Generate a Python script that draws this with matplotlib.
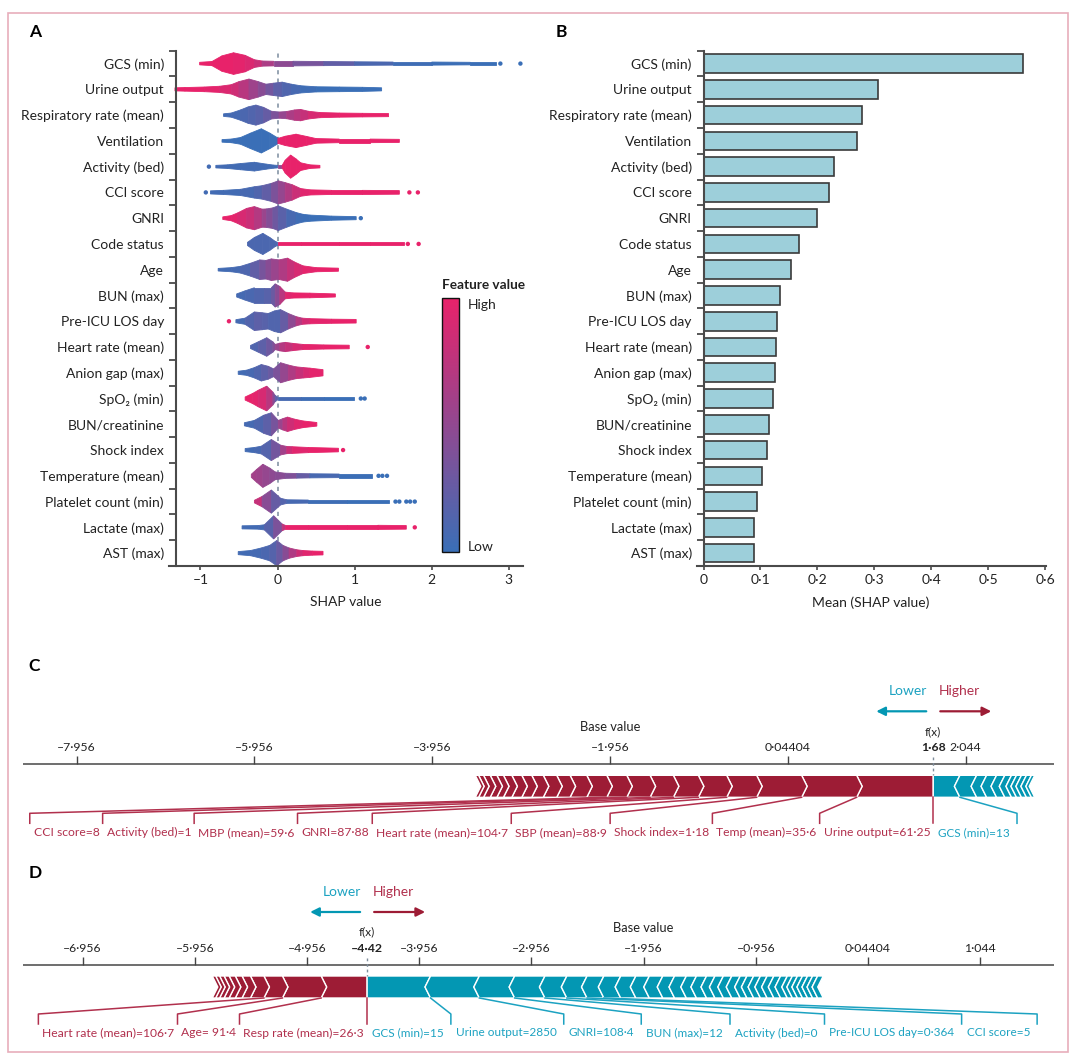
import numpy as np
import matplotlib
matplotlib.use("Agg")
import matplotlib.pyplot as plt
from matplotlib.colors import LinearSegmentedColormap
from matplotlib.patches import Polygon, Rectangle
from matplotlib.transforms import offset_copy
from matplotlib.cm import ScalarMappable

plt.rcParams["font.family"] = ["Lato", "DejaVu Sans"]

# ---------------- data ----------------
features = ["GCS (min)", "Urine output", "Respiratory rate (mean)", "Ventilation",
            "Activity (bed)", "CCI score", "GNRI", "Code status", "Age", "BUN (max)",
            "Pre-ICU LOS day", "Heart rate (mean)", "Anion gap (max)", "SpO\u2082 (min)",
            "BUN/creatinine", "Shock index", "Temperature (mean)", "Platelet count (min)",
            "Lactate (max)", "AST (max)"]

mean_abs_shap = [0.562, 0.307, 0.279, 0.270, 0.230, 0.220, 0.199, 0.167, 0.153, 0.134,
                 0.129, 0.128, 0.126, 0.122, 0.115, 0.112, 0.102, 0.094, 0.089, 0.088]

# beeswarm outline per feature: SHAP value, half height (rows), feature value (0 low - 1 high)
swarm_x = [
    [-1.01, -0.85, -0.72, -0.57, -0.42, -0.3, -0.2, -0.05, 0.2, 0.6, 1.0, 1.5, 2.0, 2.5, 2.83],
    [-1.33, -1.2, -0.95, -0.75, -0.6, -0.5, -0.37, -0.25, -0.15, -0.05, 0.06, 0.18, 0.3, 0.5, 0.8, 1.1, 1.35],
    [-0.7, -0.6, -0.48, -0.38, -0.28, -0.18, -0.08, 0.02, 0.12, 0.22, 0.3, 0.4, 0.55, 0.8, 1.1, 1.44],
    [-0.72, -0.6, -0.48, -0.35, -0.21, -0.1, 0.0, 0.01, 0.1, 0.24, 0.38, 0.5, 0.8, 1.2, 1.58],
    [-0.8, -0.65, -0.48, -0.3, -0.15, -0.05, 0.0, 0.06, 0.1, 0.17, 0.24, 0.3, 0.42, 0.55],
    [-0.87, -0.7, -0.48, -0.3, -0.2, -0.08, 0.01, 0.1, 0.19, 0.3, 0.42, 0.7, 1.1, 1.58],
    [-0.71, -0.6, -0.52, -0.4, -0.3, -0.2, -0.14, -0.06, 0.01, 0.12, 0.24, 0.33, 0.42, 0.7, 1.02],
    [-0.39, -0.3, -0.19, -0.1, -0.03, 0.0, 0.01, 0.3, 0.8, 1.2, 1.64],
    [-0.77, -0.6, -0.48, -0.35, -0.23, -0.15, -0.08, 0.02, 0.13, 0.22, 0.33, 0.5, 0.79],
    [-0.53, -0.42, -0.3, -0.18, -0.08, -0.03, 0.03, 0.1, 0.2, 0.42, 0.75],
    [-0.54, -0.42, -0.3, -0.2, -0.12, -0.04, 0.04, 0.14, 0.24, 0.32, 0.42, 0.7, 1.02],
    [-0.35, -0.25, -0.14, -0.06, -0.03, 0.03, 0.1, 0.2, 0.33, 0.6, 0.93],
    [-0.51, -0.4, -0.3, -0.21, -0.12, -0.05, 0.04, 0.14, 0.24, 0.34, 0.42, 0.59],
    [-0.42, -0.32, -0.25, -0.14, -0.06, -0.03, 0.0, 0.3, 0.6, 0.99],
    [-0.43, -0.3, -0.18, -0.08, 0.01, 0.07, 0.13, 0.22, 0.33, 0.51],
    [-0.42, -0.3, -0.21, -0.08, 0.04, 0.12, 0.19, 0.4, 0.79],
    [-0.34, -0.27, -0.19, -0.1, -0.03, 0.1, 0.25, 0.42, 0.8, 1.22],
    [-0.3, -0.2, -0.08, 0.04, 0.12, 0.4, 0.9, 1.44],
    [-0.46, -0.25, -0.17, -0.05, 0.06, 0.1, 0.4, 0.9, 1.3, 1.67],
    [-0.51, -0.35, -0.21, -0.1, -0.01, 0.07, 0.15, 0.25, 0.33, 0.45, 0.59],
]
swarm_w = [
    [0.05, 0.08, 0.3, 0.42, 0.32, 0.15, 0.1, 0.09, 0.09, 0.08, 0.07, 0.06, 0.06, 0.05, 0.05],
    [0.06, 0.07, 0.09, 0.12, 0.18, 0.3, 0.4, 0.3, 0.2, 0.24, 0.28, 0.2, 0.14, 0.1, 0.09, 0.08, 0.06],
    [0.05, 0.08, 0.2, 0.32, 0.39, 0.3, 0.15, 0.12, 0.14, 0.2, 0.22, 0.15, 0.1, 0.08, 0.07, 0.06],
    [0.05, 0.07, 0.13, 0.3, 0.47, 0.3, 0.12, 0.1, 0.18, 0.26, 0.17, 0.09, 0.07, 0.07, 0.06],
    [0.05, 0.07, 0.12, 0.17, 0.1, 0.06, 0.05, 0.05, 0.25, 0.45, 0.3, 0.15, 0.07, 0.05],
    [0.06, 0.08, 0.12, 0.22, 0.26, 0.35, 0.45, 0.38, 0.3, 0.15, 0.1, 0.08, 0.08, 0.07],
    [0.05, 0.1, 0.2, 0.38, 0.45, 0.35, 0.36, 0.4, 0.48, 0.35, 0.22, 0.15, 0.12, 0.08, 0.06],
    [0.06, 0.25, 0.41, 0.25, 0.1, 0.06, 0.06, 0.06, 0.06, 0.06, 0.06],
    [0.05, 0.08, 0.13, 0.25, 0.38, 0.36, 0.42, 0.38, 0.45, 0.3, 0.15, 0.08, 0.06],
    [0.06, 0.18, 0.3, 0.3, 0.3, 0.45, 0.35, 0.13, 0.1, 0.09, 0.06],
    [0.06, 0.12, 0.36, 0.33, 0.3, 0.4, 0.45, 0.3, 0.18, 0.12, 0.1, 0.08, 0.07],
    [0.06, 0.2, 0.36, 0.2, 0.1, 0.15, 0.18, 0.14, 0.1, 0.08, 0.07],
    [0.06, 0.1, 0.2, 0.32, 0.25, 0.15, 0.39, 0.3, 0.23, 0.2, 0.18, 0.12],
    [0.06, 0.2, 0.32, 0.48, 0.25, 0.12, 0.06, 0.06, 0.06, 0.06],
    [0.06, 0.15, 0.35, 0.45, 0.15, 0.22, 0.28, 0.2, 0.13, 0.07],
    [0.06, 0.1, 0.15, 0.41, 0.19, 0.14, 0.13, 0.1, 0.07],
    [0.06, 0.25, 0.45, 0.3, 0.15, 0.1, 0.09, 0.08, 0.07, 0.07],
    [0.05, 0.2, 0.45, 0.13, 0.07, 0.06, 0.06, 0.06],
    [0.06, 0.07, 0.1, 0.45, 0.13, 0.08, 0.08, 0.08, 0.08, 0.07],
    [0.06, 0.1, 0.2, 0.3, 0.49, 0.3, 0.2, 0.13, 0.1, 0.08, 0.07],
]
swarm_c = [
    [1, 1, 1, 1, 0.95, 0.9, 0.75, 0.55, 0.4, 0.3, 0.15, 0.05, 0.02, 0, 0],
    [1, 1, 1, 0.95, 0.9, 0.8, 0.65, 0.5, 0.4, 0.25, 0.15, 0.1, 0.05, 0, 0, 0, 0],
    [0.05, 0.05, 0.08, 0.12, 0.15, 0.2, 0.3, 0.45, 0.6, 0.7, 0.75, 0.85, 0.95, 1, 1, 1],
    [0, 0, 0, 0, 0, 0, 0, 1, 1, 1, 1, 1, 1, 1, 1],
    [0.05, 0.05, 0.05, 0.05, 0.05, 0.05, 0.05, 1, 1, 1, 1, 1, 1, 1],
    [0.05, 0.05, 0.05, 0.1, 0.15, 0.3, 0.45, 0.6, 0.75, 0.9, 1, 1, 1, 1],
    [1, 1, 0.95, 0.85, 0.8, 0.6, 0.5, 0.35, 0.25, 0.12, 0.05, 0.02, 0, 0, 0],
    [0.1, 0.1, 0.1, 0.1, 0.1, 0.1, 1, 1, 1, 1, 1],
    [0.05, 0.05, 0.08, 0.15, 0.3, 0.4, 0.5, 0.6, 0.75, 0.85, 0.95, 1, 1],
    [0.05, 0.08, 0.1, 0.15, 0.2, 0.35, 0.55, 0.9, 1, 1, 1],
    [0.05, 0.08, 0.2, 0.2, 0.15, 0.12, 0.15, 0.35, 0.6, 0.8, 0.95, 1, 1],
    [0.1, 0.15, 0.25, 0.35, 0.45, 0.65, 0.75, 0.85, 0.95, 1, 1],
    [0.05, 0.05, 0.1, 0.15, 0.25, 0.3, 0.45, 0.6, 0.75, 0.85, 0.95, 1],
    [1, 1, 0.95, 0.85, 0.6, 0.3, 0.1, 0.05, 0, 0],
    [0.05, 0.08, 0.15, 0.25, 0.45, 0.65, 0.8, 0.9, 1, 1],
    [0.05, 0.05, 0.1, 0.2, 0.45, 0.75, 0.9, 1, 1],
    [0.6, 0.6, 0.55, 0.5, 0.45, 0.45, 0.35, 0.15, 0.02, 0],
    [1, 0.6, 0.3, 0.2, 0.1, 0.05, 0, 0],
    [0.05, 0.05, 0.08, 0.25, 0.5, 1, 1, 1, 1, 1],
    [0.05, 0.05, 0.08, 0.12, 0.2, 0.35, 0.55, 0.8, 0.9, 1, 1],
]
# isolated points: row, SHAP value, feature value
outlier_row = [0, 0, 4, 5, 5, 5, 6, 7, 7, 10, 11, 13, 13, 15, 16, 16, 16, 17, 17, 17, 17, 17, 18]
outlier_x = [2.89, 3.15, -0.89, -0.93, 1.71, 1.82, 1.08, 1.69, 1.83, -0.63, 1.17, 1.08, 1.13,
             0.85, 1.31, 1.36, 1.42, 1.53, 1.58, 1.67, 1.72, 1.78, 1.78]
outlier_c = [0, 0, 0.05, 0.05, 1, 1, 0, 1, 1, 1, 1, 0, 0, 1, 0, 0, 0, 0, 0, 0, 0, 0, 1]

# force plot C
c_fx, c_base = 1.68, -1.956
c_ticks = [-7.956, -5.956, -3.956, -1.956, 0.04404, 2.044]
c_tick_text = ["\u20137\u00b7956", "\u20135\u00b7956", "\u20133\u00b7956", "\u20131\u00b7956",
               "0\u00b704404", "2\u00b7044"]
c_red = [0.862, 0.619, 0.506, 0.337, 0.319, 0.281, 0.262, 0.262, 0.225, 0.225, 0.188,
         0.150, 0.151, 0.130, 0.112, 0.112, 0.094, 0.074, 0.075, 0.075, 0.056, 0.037]
c_red_labels = ["Urine output=61\u00b725", "Temp (mean)=35\u00b76", "Shock index=1\u00b718",
                "SBP (mean)=88\u00b79", "Heart rate (mean)=104\u00b77", "GNRI=87\u00b788",
                "MBP (mean)=59\u00b76", "Activity (bed)=1", "CCI score=8"]
c_blue = [0.300, 0.188, 0.112, 0.112, 0.093, 0.075, 0.056, 0.056, 0.056, 0.056, 0.037]
c_blue_labels = ["GCS (min)=13"]

# force plot D
d_fx, d_base = -4.42, -1.956
d_ticks = [-6.956, -5.956, -4.956, -3.956, -2.956, -1.956, -0.956, 0.04404, 1.044]
d_tick_text = ["\u20136\u00b7956", "\u20135\u00b7956", "\u20134\u00b7956", "\u20133\u00b7956",
               "\u20132\u00b7956", "\u20131\u00b7956", "\u20130\u00b7956", "0\u00b704404", "1\u00b7044"]
d_red = [0.41, 0.345, 0.165, 0.12, 0.075, 0.06, 0.055, 0.045, 0.04, 0.035, 0.03]
d_red_labels = ["Resp rate (mean)=26\u00b73", "Age= 91\u00b74", "Heart rate (mean)=106\u00b77"]
d_blue = [0.565, 0.435, 0.315, 0.27, 0.195, 0.18, 0.15, 0.15, 0.135, 0.12, 0.12, 0.105,
          0.105, 0.09, 0.09, 0.075, 0.075, 0.075, 0.075, 0.06, 0.06, 0.06, 0.06, 0.06,
          0.06, 0.06, 0.045, 0.045, 0.045, 0.045, 0.045, 0.045, 0.05]
d_blue_labels = ["GCS (min)=15", "Urine output=2850", "GNRI=108\u00b74", "BUN (max)=12",
                 "Activity (bed)=0", "Pre-ICU LOS day=0\u00b7364", "CCI score=5"]

# ---------------- style ----------------
shap_cmap = LinearSegmentedColormap.from_list("shap", ["#3a6fb7", "#e8226a"])
RED_BAR, RED_TXT = "#9d1c35", "#b1304d"
BLUE_BAR, BLUE_TXT = "#0397b3", "#1ca2c1"
AX_COL = "#4a4a4a"

W, H = 1080, 1064
fig = plt.figure(figsize=(W / 100, H / 100), dpi=100)


def px_axes(x0, y0, x1, y1):
    return fig.add_axes([x0 / W, 1 - y1 / H, (x1 - x0) / W, (y1 - y0) / H])


def fig_text(x, y, s, **kw):
    return fig.text(x / W, 1 - y / H, s, **kw)


fig.patches.append(Rectangle((8 / W, 1 - 1052 / H), 1060 / W, 1038.7 / H, transform=fig.transFigure,
                             fill=False, edgecolor="#e7aebb", lw=1.2))

rows = np.arange(len(features))


def style_bar_axes(ax, left_at):
    for s in ["top", "right"]:
        ax.spines[s].set_visible(False)
    for s in ["left", "bottom"]:
        ax.spines[s].set_color(AX_COL)
        ax.spines[s].set_linewidth(1.5)
    ax.spines["left"].set_position(("data", left_at))
    ax.set_ylim(19.5, -0.5)
    ax.set_yticks(rows)
    ax.set_yticklabels(features, fontsize=10, color="#222")
    ax.tick_params(axis="y", which="major", length=0, pad=8.5)
    ax.set_yticks(np.arange(-0.5, 19, 1), minor=True)
    ax.tick_params(axis="y", which="minor", length=5, width=1.3, color=AX_COL)
    ax.tick_params(axis="x", length=3, width=1.2, color=AX_COL, pad=3, labelsize=10, labelcolor="#222")


# ---------------- A: beeswarm ----------------
axA = px_axes(168.8, 50.7, 523.5, 566)
axA.set_xlim(-1.41, 3.19)
style_bar_axes(axA, -1.32)
axA.axvline(0, color="#8595a6", lw=1.2, ls=(0, (2.5, 2.5)), zorder=0)
for i in rows:
    xs, ws, cs = swarm_x[i], swarm_w[i], swarm_c[i]
    for j in range(len(xs) - 1):
        poly = [(xs[j], i - ws[j]), (xs[j + 1], i - ws[j + 1]), (xs[j + 1], i + ws[j + 1]), (xs[j], i + ws[j])]
        col = shap_cmap((cs[j] + cs[j + 1]) / 2)
        axA.add_patch(Polygon(poly, closed=True, facecolor=col, edgecolor=col, lw=0.6, zorder=2))
axA.scatter(outlier_x, outlier_row, c=outlier_c, cmap=shap_cmap, vmin=0, vmax=1, s=10, lw=0, zorder=3)
axA.set_xticks([-1, 0, 1, 2, 3])
axA.set_xticklabels(["\u20131", "0", "1", "2", "3"])
axA.set_xlabel("SHAP value", fontsize=10, labelpad=7, color="#222")

cax = px_axes(441.9, 298.3, 459.1, 551.7)
cb = fig.colorbar(ScalarMappable(cmap=shap_cmap), cax=cax, ticks=[])
cb.outline.set_edgecolor("#111")
cb.outline.set_linewidth(1.0)
fig_text(442, 285, "Feature value", fontsize=9.8, fontweight="bold", va="center", color="#222")
fig_text(468, 305, "High", fontsize=10, va="center", color="#222")
fig_text(468, 547, "Low", fontsize=10, va="center", color="#222")

# ---------------- B: mean |SHAP| bars ----------------
axB = px_axes(696.7, 50.7, 1045.6, 566)
axB.set_xlim(-0.0121, 0.601)
style_bar_axes(axB, 0)
axB.barh(rows, mean_abs_shap, height=0.72, color="#9dcfda", edgecolor="#3a3a3a", lw=1.2, zorder=2)
bx = [0, 0.1, 0.2, 0.3, 0.4, 0.5, 0.6]
axB.set_xticks(bx)
axB.set_xticklabels(["0"] + [f"{v:.1f}".replace(".", "\u00b7") for v in bx[1:]])
axB.set_xlabel("Mean (SHAP value)", fontsize=10, labelpad=7, color="#222")

fig_text(29, 32, "A", fontsize=12.5, fontweight="bold", va="center")
fig_text(556, 32, "B", fontsize=12.5, fontweight="bold", va="center")
fig_text(28, 666, "C", fontsize=12.5, fontweight="bold", va="center")
fig_text(29, 873, "D", fontsize=12.5, fontweight="bold", va="center")

# ---------------- C / D: force plots ----------------
renderer = fig.canvas.get_renderer()


def shift_px(ax, x, dpx):
    d = ax.transData.transform((x, 0))[0] + dpx
    return ax.transData.inverted().transform((d, 0))[0]


def force_panel(ax, fx, base, ticks, tick_text, red, red_labels, blue, blue_labels, ya):
    x0, x1 = ax.get_xlim()
    ax.plot([x0, x1], [ya, ya], color="#555", lw=1.2)
    ax.vlines(ticks, ya - 8, ya, color="#444", lw=1.0)
    for t, s in zip(ticks, tick_text):
        ax.text(t, ya - 17, s, ha="center", va="center", fontsize=8.8, color="#222")
    ax.text(base, ya - 37, "Base value", ha="center", va="center", fontsize=9.3, color="#222")
    ax.text(fx, ya - 33, "f(x)", ha="center", va="center", fontsize=8.5, color="#222")
    ax.text(fx, ya - 17, f"{fx:.2f}".replace("-", "\u2013").replace(".", "\u00b7"), ha="center",
            va="center", fontsize=8.8, fontweight="bold", color="#222",
            bbox=dict(facecolor="white", edgecolor="none", pad=0.5))
    ax.plot([fx, fx], [ya - 7, ya + 11], color="#7f8d9b", lw=1, ls=(0, (2, 2)))

    # legend arrows
    ax.text(fx, ya - 73, "Lower", transform=offset_copy(ax.transData, fig=fig, x=-25, units="dots"),
            ha="center", va="center", fontsize=10, color=BLUE_TXT)
    ax.text(fx, ya - 73, "Higher", transform=offset_copy(ax.transData, fig=fig, x=26, units="dots"),
            ha="center", va="center", fontsize=10, color=RED_TXT)
    for a, b, col in [(-7, -57, BLUE_BAR), (7, 58, RED_BAR)]:
        ax.annotate("", xy=(fx, ya - 53), xycoords=offset_copy(ax.transData, fig=fig, x=b, units="dots"),
                    xytext=(fx, ya - 53), textcoords=offset_copy(ax.transData, fig=fig, x=a, units="dots"),
                    arrowprops=dict(arrowstyle="-|>", color=col, lw=1.6, mutation_scale=13,
                                    shrinkA=0, shrinkB=0))

    top, bot = ya + 11, ya + 33
    mid = (top + bot) / 2
    d = shift_px(ax, 0, 5.5) - 0
    y_tt, y_tb, y_tx = ya + 49, ya + 59, ya + 68
    for vals, labels, sign, bar_col, txt_col in [(red, red_labels, -1, RED_BAR, RED_TXT),
                                                 (blue, blue_labels, 1, BLUE_BAR, BLUE_TXT)]:
        edges = fx + sign * np.concatenate([[0], np.cumsum(vals)])
        for i in range(len(vals)):
            a, b = edges[i], edges[i + 1]
            tip = d if i > 0 else 0
            poly = [(b, top), (a, top), (a - sign * tip, mid), (a, bot), (b, bot), (b - sign * d, mid)]
            ax.add_patch(Polygon(poly, closed=True, facecolor=bar_col, edgecolor="white", lw=1.0))
        start = fx
        for i, lab in enumerate(labels):
            if sign < 0:
                tx = ax.text(shift_px(ax, start, -3), y_tx, lab, ha="right", va="center",
                             fontsize=8.7, color=txt_col)
                bb = tx.get_window_extent(renderer)
                box_end = ax.transData.inverted().transform((bb.x0 - 4, 0))[0]
                if i == 0:
                    ax.plot([fx, fx], [bot, y_tb], color=txt_col, lw=1.1)
            else:
                tx = ax.text(shift_px(ax, start, 5), y_tx, lab, ha="left", va="center",
                             fontsize=8.5, color=txt_col)
                bb = tx.get_window_extent(renderer)
                box_end = ax.transData.inverted().transform((bb.x1 + 7, 0))[0]
            ax.plot([edges[i + 1], box_end, box_end], [bot, y_tt, y_tb], color=txt_col, lw=1.1)
            start = box_end


axC = px_axes(23, 675, 1053.8, 850)
axC.set_xlim(-8.56, 3.036)
axC.set_ylim(850, 675)
axC.axis("off")
force_panel(axC, c_fx, c_base, c_ticks, c_tick_text, c_red, c_red_labels, c_blue, c_blue_labels, 764.3)

axD = px_axes(23, 880, 1053.8, 1050)
axD.set_xlim(-7.487, 1.700)
axD.set_ylim(1050, 880)
axD.axis("off")
force_panel(axD, d_fx, d_base, d_ticks, d_tick_text, d_red, d_red_labels, d_blue, d_blue_labels, 965)

fig.savefig("out.png", dpi=100)
